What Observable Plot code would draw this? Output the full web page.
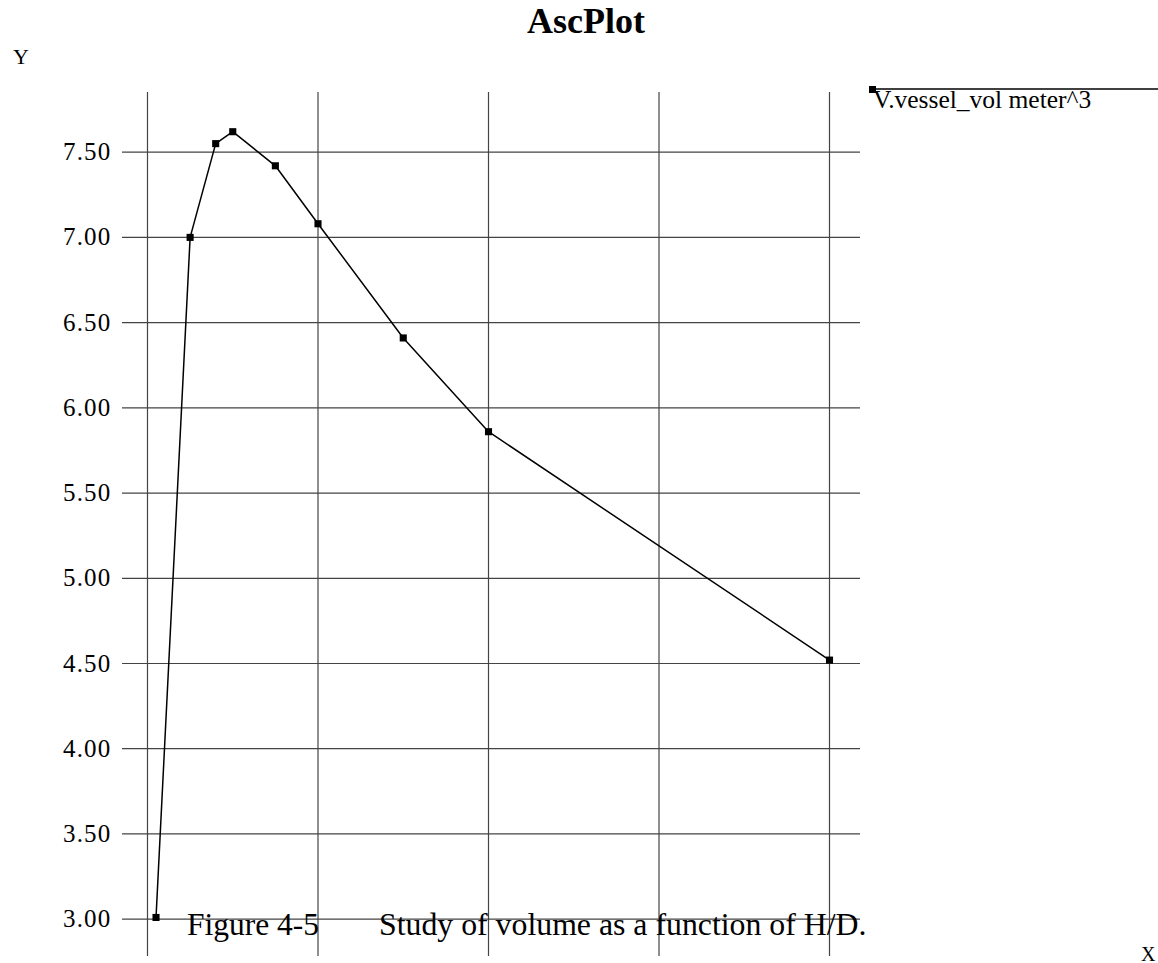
<!DOCTYPE html>
<html>
<head>
<meta charset="utf-8">
<script src="https://cdn.jsdelivr.net/npm/d3@7"></script>
<script src="https://cdn.jsdelivr.net/npm/@observablehq/plot@0.6"></script>
<style>
  html, body { margin: 0; padding: 0; background: #fff; }
  #chart { width: 1158px; height: 963px; }
</style>
</head>
<body>
<div id="chart"></div>
<script>
// H/D ratio (x) and vessel volume (y, meter^3)
const hd = [0.05, 0.25, 0.4, 0.5, 0.75, 1.0, 1.5, 2.0, 4.0];
const vol = [3.01, 7.00, 7.55, 7.62, 7.42, 7.08, 6.41, 5.86, 4.52];
const xGrid = [0, 1, 2, 3, 4];
const yTicks = [3.0, 3.5, 4.0, 4.5, 5.0, 5.5, 6.0, 6.5, 7.0, 7.5];
const titleText = "AscPlot";
const seriesName = "V.vessel_vol meter^3";
const captionA = "Figure 4-5";
const captionB = "Study of volume as a function of H/D.";

const data = hd.map((x, i) => ({x, y: vol[i]}));
const W = 1158, H = 963;
const font = "'Liberation Serif', 'Times New Roman', serif";

const svg = Plot.plot({
  width: W,
  height: H,
  marginLeft: 122,
  marginRight: 298,
  marginTop: 92,
  marginBottom: 7,
  style: {fontFamily: font, fontSize: "24px", color: "#000", background: "#fff"},
  x: {domain: [-0.1466, 4.1818], axis: null},
  y: {domain: [2.781, 7.850], label: null, ticks: yTicks, tickFormat: d => d.toFixed(2)},
  marks: [
    Plot.ruleY(yTicks, {stroke: "#444", strokeWidth: 1.2}),
    Plot.ruleX(xGrid, {stroke: "#444", strokeWidth: 1.2}),
    Plot.axisY({ticks: yTicks, tickSize: 0, tickPadding: 11, tickFormat: d => d.toFixed(2), fontSize: 25, label: null}),
    Plot.line(data, {x: "x", y: "y", stroke: "#000", strokeWidth: 1.5}),
    Plot.dot(data, {x: "x", y: "y", symbol: "square", r: 4, fill: "#000", stroke: "none"})
  ]
});

const s = d3.select(svg);
s.style("overflow", "visible");
s.selectAll("g[aria-label='y-axis tick label'] text").attr("letter-spacing", "1.2px");
function label(x, y, size, text, anchor = "start", weight = "normal") {
  s.append("text").attr("x", x).attr("y", y).attr("text-anchor", anchor)
    .attr("font-family", font).attr("font-weight", weight).attr("font-size", size)
    .attr("fill", "#000").text(text);
}
// title
label(586, 33, 36, titleText, "middle", "bold");
// axis names
label(13, 64, 22, "Y");
label(1141, 961, 20, "X");
// legend
s.append("line").attr("x1", 872).attr("x2", 1158).attr("y1", 89).attr("y2", 89).attr("stroke", "#000").attr("stroke-width", 1.5);
s.append("rect").attr("x", 869).attr("y", 86).attr("width", 7).attr("height", 7).attr("fill", "#000");
label(873, 108, 25.5, seriesName);
// caption
label(187, 935, 31.5, captionA);
label(379, 935, 31.8, captionB);

document.getElementById("chart").appendChild(svg);
</script>
</body>
</html>
